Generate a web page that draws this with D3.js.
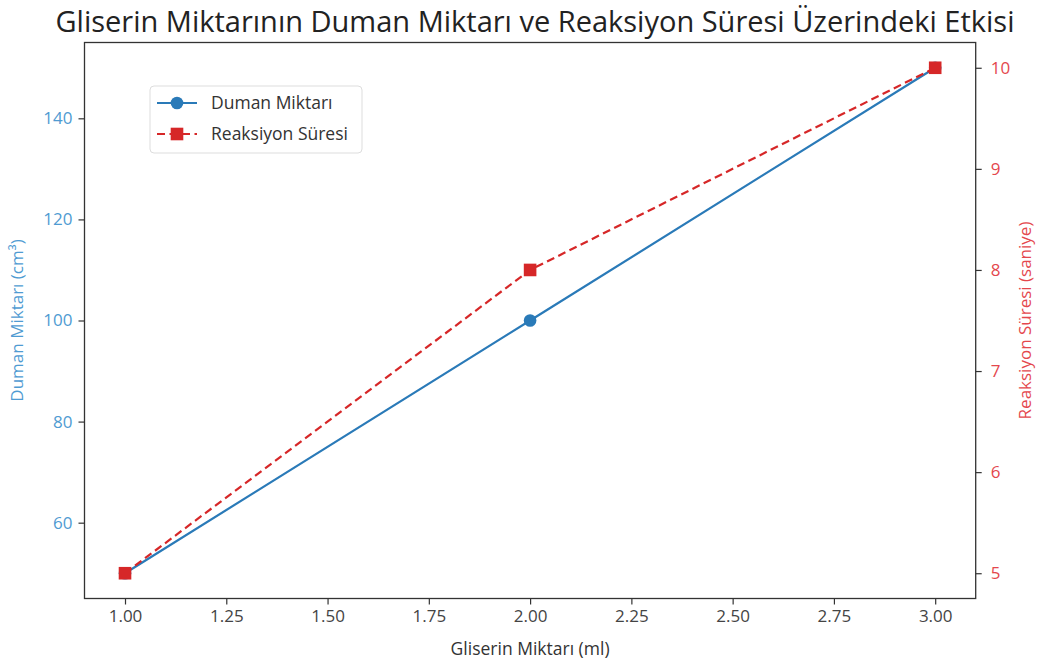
<!DOCTYPE html>
<html>
<head>
<meta charset="utf-8">
<script src="https://cdn.jsdelivr.net/npm/d3@7"></script>
<style>
  body { margin: 0; background: #fff; }
  svg text { font-family: "Open Sans", "DejaVu Sans", sans-serif; }
</style>
</head>
<body>
<div id="chart-area"></div>
<script>
// data
const glycerin = [1, 2, 3]
const smoke = [50, 100, 150]
const reaction = [5, 8, 10]
const xTicks = [1.0, 1.25, 1.5, 1.75, 2.0, 2.25, 2.5, 2.75, 3.0]
const leftTicks = [60, 80, 100, 120, 140]
const rightTicks = [5, 6, 7, 8, 9, 10]

const W = 1040, H = 668
const MARGIN = {LEFT: 84.5, RIGHT: 64.3, TOP: 42.5, BOTTOM: 69.5}
const WIDTH = W - MARGIN.LEFT - MARGIN.RIGHT
const HEIGHT = H - MARGIN.TOP - MARGIN.BOTTOM

const BLUE = "#2a7ab8", RED = "#d62728"
const BLUE_TXT = "#4f9bd2", RED_TXT = "#e4474d", DARK = "#333"

const svg = d3.select("#chart-area").append("svg")
	.attr("width", W)
	.attr("height", H)
const g = svg.append("g")
	.attr("transform", `translate(${MARGIN.LEFT}, ${MARGIN.TOP})`)

const x = d3.scaleLinear().domain([0.9, 3.1]).range([0, WIDTH])
const yL = d3.scaleLinear().domain([45, 155]).range([HEIGHT, 0])
const yR = d3.scaleLinear().domain([4.75, 10.25]).range([HEIGHT, 0])

// axes
const xAxis = g.append("g")
	.attr("transform", `translate(0, ${HEIGHT})`)
	.call(d3.axisBottom(x).tickValues(xTicks).tickFormat(d3.format(".2f")).tickSizeOuter(0).tickSize(6).tickPadding(5))
const leftAxis = g.append("g")
	.call(d3.axisLeft(yL).tickValues(leftTicks).tickSizeOuter(0).tickSize(6).tickPadding(6))
const rightAxis = g.append("g")
	.attr("transform", `translate(${WIDTH}, 0)`)
	.call(d3.axisRight(yR).tickValues(rightTicks).tickFormat(d3.format("d")).tickSizeOuter(0).tickSize(6).tickPadding(9))

;[xAxis, leftAxis, rightAxis].forEach(a => {
	a.select(".domain").remove()
	a.selectAll("line").attr("stroke", DARK).attr("stroke-width", 1.2)
	a.selectAll("text").attr("font-size", "17px")
})
xAxis.selectAll("text").attr("fill", "#444")
leftAxis.selectAll("text").attr("fill", BLUE_TXT)
rightAxis.selectAll("text").attr("fill", RED_TXT)

// frame
g.append("rect")
	.attr("width", WIDTH)
	.attr("height", HEIGHT)
	.attr("fill", "none")
	.attr("stroke", DARK)
	.attr("stroke-width", 1.3)

// lines
const smokeLine = d3.line().x((d, i) => x(glycerin[i])).y(d => yL(d))
const reactLine = d3.line().x((d, i) => x(glycerin[i])).y(d => yR(d))

g.append("path")
	.attr("d", smokeLine(smoke))
	.attr("fill", "none")
	.attr("stroke", BLUE)
	.attr("stroke-width", 2.2)
g.selectAll(".smoke-dot").data(smoke).enter().append("circle")
	.attr("cx", (d, i) => x(glycerin[i]))
	.attr("cy", d => yL(d))
	.attr("r", 6.3)
	.attr("fill", BLUE)

g.append("path")
	.attr("d", reactLine(reaction))
	.attr("fill", "none")
	.attr("stroke", RED)
	.attr("stroke-width", 2.2)
	.attr("stroke-dasharray", "8,4.5")
g.selectAll(".react-dot").data(reaction).enter().append("rect")
	.attr("x", (d, i) => x(glycerin[i]) - 6.3)
	.attr("y", d => yR(d) - 6.3)
	.attr("width", 12.6)
	.attr("height", 12.6)
	.attr("fill", RED)

// legend
const legend = svg.append("g").attr("transform", "translate(150, 86)")
legend.append("rect")
	.attr("width", 212)
	.attr("height", 67)
	.attr("rx", 4)
	.attr("fill", "#fff")
	.attr("stroke", "#ddd")
legend.append("line").attr("x1", 7).attr("x2", 47).attr("y1", 17).attr("y2", 17)
	.attr("stroke", BLUE).attr("stroke-width", 2.2)
legend.append("circle").attr("cx", 27).attr("cy", 17).attr("r", 6.3).attr("fill", BLUE)
legend.append("text").attr("x", 61).attr("y", 23).attr("font-size", "17.5px").attr("fill", "#333").text("Duman Miktarı")
legend.append("line").attr("x1", 7).attr("x2", 47).attr("y1", 48).attr("y2", 48)
	.attr("stroke", RED).attr("stroke-width", 2.2).attr("stroke-dasharray", "8,4.5")
legend.append("rect").attr("x", 20.7).attr("y", 41.7).attr("width", 12.6).attr("height", 12.6).attr("fill", RED)
legend.append("text").attr("x", 61).attr("y", 54).attr("font-size", "17.5px").attr("fill", "#333").text("Reaksiyon Süresi")

// title & labels
svg.append("text")
	.attr("x", 535)
	.attr("y", 32)
	.attr("font-size", "29px")
	.attr("text-anchor", "middle")
	.attr("fill", "#222")
	.text("Gliserin Miktarının Duman Miktarı ve Reaksiyon Süresi Üzerindeki Etkisi")

svg.append("text")
	.attr("x", MARGIN.LEFT + WIDTH / 2)
	.attr("y", 655)
	.attr("font-size", "17.5px")
	.attr("text-anchor", "middle")
	.attr("fill", "#333")
	.text("Gliserin Miktarı (ml)")

svg.append("text")
	.attr("transform", `translate(23, ${MARGIN.TOP + HEIGHT / 2}) rotate(-90)`)
	.attr("font-size", "17px")
	.attr("text-anchor", "middle")
	.attr("fill", BLUE_TXT)
	.text("Duman Miktarı (cm³)")

svg.append("text")
	.attr("transform", `translate(1031, ${MARGIN.TOP + HEIGHT / 2}) rotate(-90)`)
	.attr("font-size", "17px")
	.attr("text-anchor", "middle")
	.attr("fill", RED_TXT)
	.text("Reaksiyon Süresi (saniye)")
</script>
</body>
</html>
